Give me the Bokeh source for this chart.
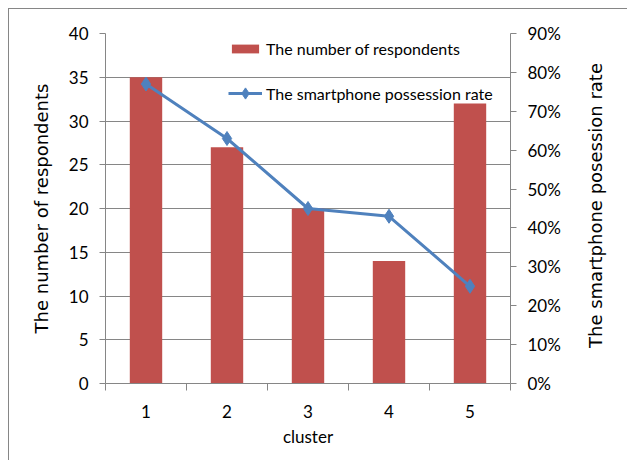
import math
from bokeh.plotting import figure
from bokeh.models import (Range1d, LinearAxis, FixedTicker, NumeralTickFormatter,
                          Legend, LegendItem, Label)
from bokeh.embed import file_html
from bokeh.resources import INLINE

clusters = [1, 2, 3, 4, 5]
cluster_labels = ["1", "2", "3", "4", "5"]
respondents = [35, 27, 20, 14, 32]
possession_rate = [0.77, 0.63, 0.45, 0.43, 0.25]
left_ticks = [0, 5, 10, 15, 20, 25, 30, 35, 40]
right_ticks = [0.0, 0.1, 0.2, 0.3, 0.4, 0.5, 0.6, 0.7, 0.8, 0.9]
cluster_bounds = [0.5, 1.5, 2.5, 3.5, 4.5, 5.5]
right_title = "The smartphone posession rate"

BAR = "#C0504D"
LINE = "#4F81BD"
AX = "#868686"
NARROW = "Lato"
WIDE = "DejaVu Sans"

p = figure(width=618, height=451, output_backend="svg", toolbar_location=None,
           x_range=Range1d(0.5, 5.5), y_range=Range1d(0, 40),
           min_border_left=96, min_border_right=117, min_border_top=24,
           min_border_bottom=77, frame_width=405, frame_height=350,
           x_axis_location=None, y_axis_location=None)
p.margin = (8, 0, 0, 8)
p.styles = {"border-left": "1px solid #868686", "border-top": "1px solid #868686"}
p.outline_line_color = None
p.background_fill_color = "white"
p.border_fill_color = "white"
p.extra_y_ranges = {"rate": Range1d(0, 0.9)}

bars = p.vbar(x=clusters, top=respondents, width=0.4, fill_color=BAR, line_color=None)
ln = p.line(x=clusters, y=possession_rate, y_range_name="rate", line_color=LINE, line_width=3)
mk = p.scatter(x=clusters, y=possession_rate, y_range_name="rate", marker="diamond",
               size=14, fill_color=LINE, line_color=LINE)

def style_axis(ax):
    ax.axis_line_color = AX
    ax.major_tick_line_color = AX
    ax.minor_tick_line_color = AX
    ax.major_tick_in = 0
    ax.major_tick_out = 6
    ax.minor_tick_in = 0
    ax.minor_tick_out = 0
    ax.major_label_text_font = NARROW
    ax.major_label_text_font_size = "17px"
    ax.major_label_text_color = "black"
    ax.axis_label_text_color = "black"
    ax.axis_label_text_font_style = "normal"

left = LinearAxis(ticker=FixedTicker(ticks=left_ticks), axis_label="The number of respondents")
style_axis(left)
left.major_label_standoff = 11
left.axis_label_standoff = 14
left.axis_label_text_font = WIDE
left.axis_label_text_font_size = "18px"
p.add_layout(left, "left")

right = LinearAxis(y_range_name="rate", ticker=FixedTicker(ticks=right_ticks),
                   formatter=NumeralTickFormatter(format="0%"))
style_axis(right)
right.major_label_standoff = 11
p.add_layout(right, "right")

p.add_layout(Label(x=585, y=195, x_units="canvas", y_units="canvas", text=right_title,
                   angle=math.pi / 2, text_align="center", text_baseline="middle",
                   text_font=WIDE, text_font_size="18px", text_color="black"), "right")

bottom = LinearAxis(ticker=FixedTicker(ticks=clusters, minor_ticks=cluster_bounds),
                    axis_label="cluster")
style_axis(bottom)
bottom.major_tick_out = 0
bottom.minor_tick_out = 7
bottom.major_label_overrides = {c: l for c, l in zip(clusters, cluster_labels)}
bottom.major_label_standoff = 14
bottom.axis_label_standoff = 5
bottom.axis_label_text_font = NARROW
bottom.axis_label_text_font_size = "17px"
p.add_layout(bottom, "below")

p.xgrid.visible = False
p.ygrid.ticker = FixedTicker(ticks=left_ticks)
p.ygrid.grid_line_color = AX

def make_legend(item, loc, gh):
    lg = Legend(items=[item], location=loc, orientation="vertical")
    lg.border_line_color = None
    lg.background_fill_alpha = 0
    lg.padding = 0
    lg.margin = 0
    lg.spacing = 0
    lg.glyph_width = 34
    lg.glyph_height = gh
    lg.label_height = 20
    lg.label_standoff = 4
    lg.label_text_font = NARROW
    lg.label_text_font_size = "16px"
    lg.label_text_color = "black"
    p.add_layout(lg, "center")

make_legend(LegendItem(label="The number of respondents", renderers=[bars]), (123, 325), 11)
make_legend(LegendItem(label="The smartphone possession rate", renderers=[ln, mk]), (123, 276), 28)

open("out.html", "w").write(file_html(p, INLINE))
